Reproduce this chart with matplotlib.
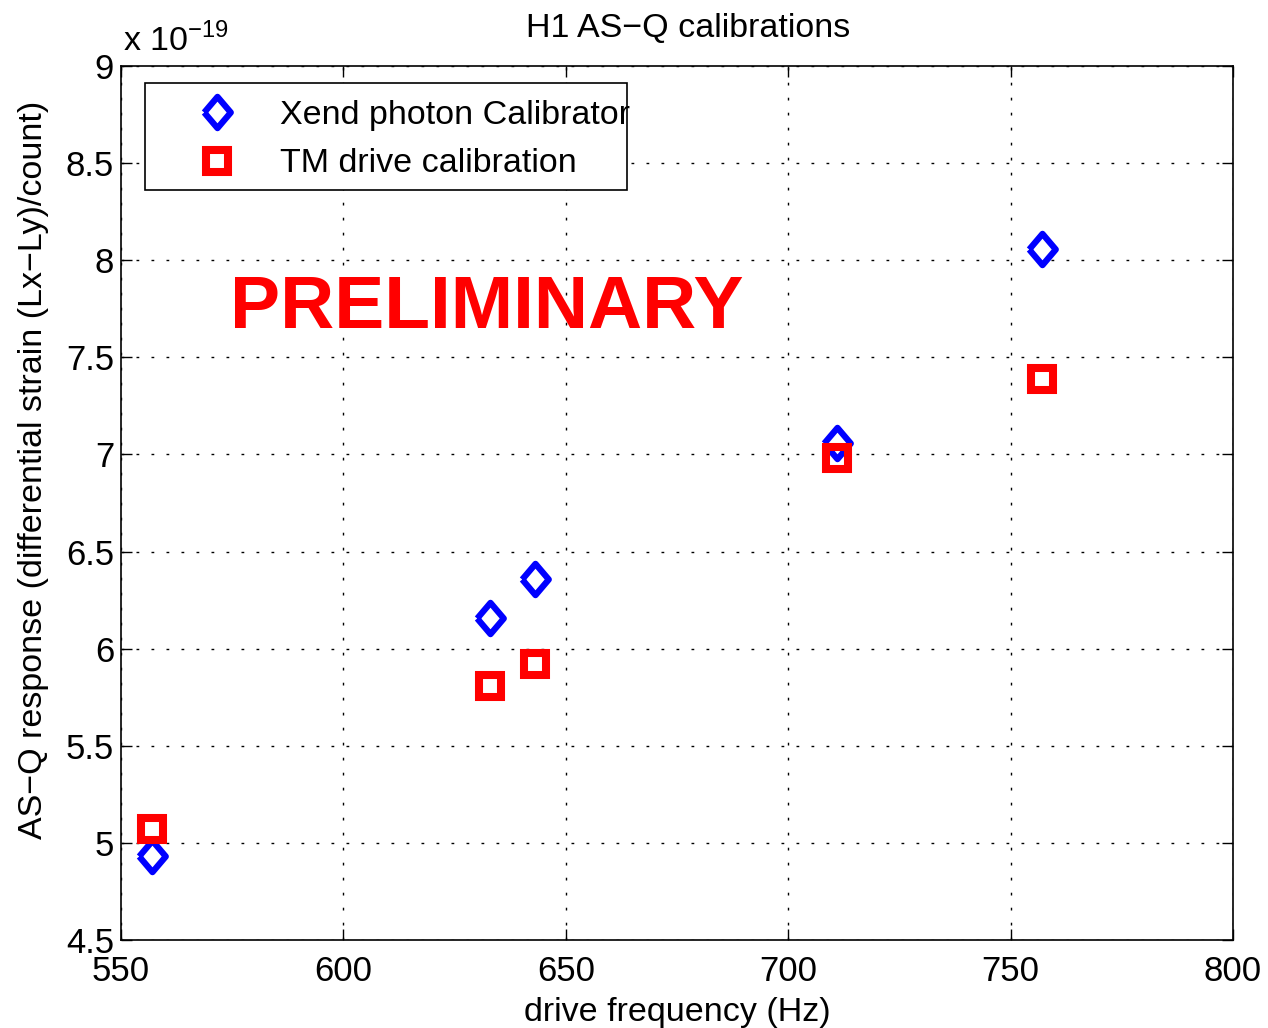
import matplotlib.pyplot as plt
from matplotlib.lines import Line2D
from matplotlib.patches import Rectangle

plt.rcParams["font.family"] = ["Liberation Sans", "DejaVu Sans"]

freq_hz = [557, 633, 643, 711, 757]
photon_cal = [4.93, 6.16, 6.36, 7.06, 8.06]
tm_drive_cal = [5.07, 5.81, 5.92, 6.98, 7.39]

x_ticks = [550, 600, 650, 700, 750, 800]
y_ticks = [4.5, 5, 5.5, 6, 6.5, 7, 7.5, 8, 8.5, 9]
y_tick_labels = ["4.5", "5", "5.5", "6", "6.5", "7", "7.5", "8", "8.5", "9"]

# MATLAB-style diamond: a bit taller than wide
DIAMOND = [(-0.85, 0), (0, 1), (0.85, 0), (0, -1), (-0.85, 0)]
BLUE = "#0000ff"
RED = "#ff0000"
diamond_style = dict(linestyle="none", marker=DIAMOND, markersize=22.5,
                     markerfacecolor="none", markeredgecolor=BLUE, markeredgewidth=4.5)
square_style = dict(linestyle="none", marker="s", markersize=15.2,
                    markerfacecolor="none", markeredgecolor=RED, markeredgewidth=5.8)

fig = plt.figure(figsize=(12.68, 10.28), dpi=100)
ax = fig.add_axes([0.0954, 0.0856, 0.877, 0.8502])

ax.plot(freq_hz, photon_cal, zorder=3, **diamond_style)
ax.plot(freq_hz, tm_drive_cal, zorder=4, **square_style)

ax.set_xlim(550, 800)
ax.set_ylim(4.5, 9)
ax.set_xticks(x_ticks)
ax.set_yticks(y_ticks)
ax.set_yticklabels(y_tick_labels)
ax.tick_params(direction="in", length=8, width=1, labelsize=25, top=True, right=True)
ax.tick_params(axis="x", pad=11)
ax.tick_params(axis="y", pad=5)
ax.grid(True, linestyle=(0, (2, 8.8)), color="black", linewidth=1.0)
for spine in ax.spines.values():
    spine.set_linewidth(1.2)

ax.set_xlabel("drive frequency (Hz)", fontsize=24.5, labelpad=6)
ax.set_ylabel("AS\u2212Q response (differential strain (Lx\u2212Ly)/count)", fontsize=24.5, labelpad=12)
ax.yaxis.label.set_y(0.538)
ax.set_title("H1 AS\u2212Q calibrations", fontsize=24.5, pad=21, x=0.51)

fig.text(0.097, 0.950, r"x 10$^{\mathregular{-19}}$", fontsize=24.5, ha="left", va="baseline")

ax.text(0.098, 0.723, "PRELIMINARY", transform=ax.transAxes, fontsize=54,
        fontweight="bold", color=RED, ha="left", va="center", zorder=5)

# legend box drawn like MATLAB's fixed-size box (text runs to its edge)
ax.add_patch(Rectangle((0.0216, 0.858), 0.4334, 0.1225, transform=ax.transAxes,
                       facecolor="white", edgecolor="black", linewidth=1.2, zorder=6))
handles = [Line2D([], [], **diamond_style), Line2D([], [], **square_style)]
leg = ax.legend(handles, ["Xend photon Calibrator", "TM drive calibration"],
                loc="upper left", bbox_to_anchor=(0.0558, 0.961), fontsize=24.5,
                frameon=False, borderpad=0.0, borderaxespad=0.0,
                handlelength=2.0, handletextpad=0.85, labelspacing=0.51)
leg.set_zorder(7)

fig.savefig("out.png", dpi=100)
